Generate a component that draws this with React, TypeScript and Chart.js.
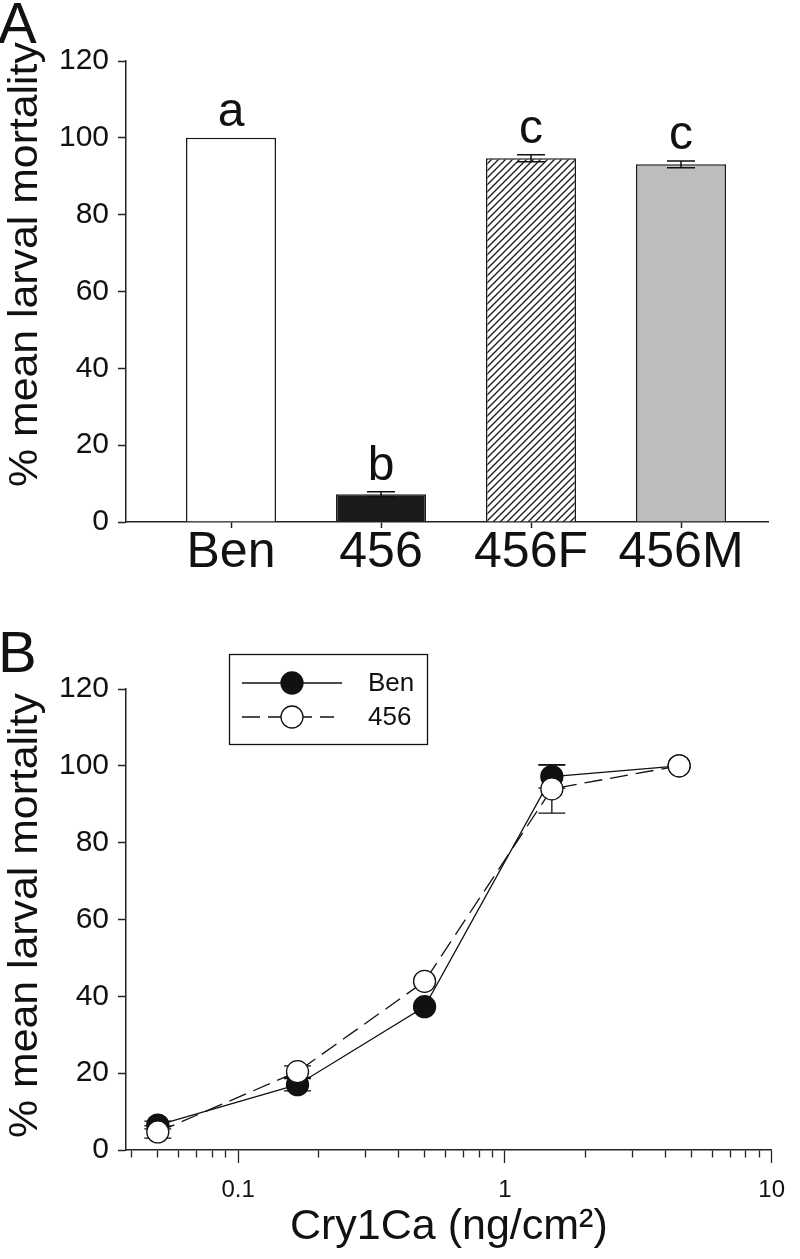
import React, { useEffect, useRef } from 'react';
import { Chart, registerables } from 'chart.js';

Chart.register(...registerables);

const FONT = '"Liberation Sans", Arial, Helvetica, sans-serif';
const INK = '#111111';

// ---------- Panel A data ----------
const groupLabels = ['Ben', '456', '456F', '456M'];
const meanMortality = [100, 7.2, 94.7, 93.1];
const mortalityErr = [0, 0.7, 0.9, 0.9];
const sigLetters = ['a', 'b', 'c', 'c'];

// ---------- Panel B data ----------
const doses = [0.05, 0.167, 0.5, 1.5, 4.5];
const benMortality = [6.5, 17.0, 37.3, 97.2, 100];
const benErr = [1.0, 1.6, 0, 3.0, 0];
const r456Mortality = [4.7, 20.4, 43.9, 94.0, 100];
const r456Err = [1.6, 1.5, 0, 6.3, 0];

// ---------- axis ticks ----------
const yTicks = [0, 20, 40, 60, 80, 100, 120];
const logMajorTicks = [0.1, 1, 10];
const Y_TITLE = '% mean larval mortality';
const X_TITLE_B = 'Cry1Ca (ng/cm\u00B2)';

Chart.defaults.font.family = FONT;
Chart.defaults.color = INK;

function makeHatch(ctx: CanvasRenderingContext2D) {
  const s = 7;
  const c = document.createElement('canvas');
  c.width = s;
  c.height = s;
  const g = c.getContext('2d')!;
  g.fillStyle = '#ffffff';
  g.fillRect(0, 0, s, s);
  g.strokeStyle = '#1a1a1a';
  g.lineWidth = 1.3;
  g.beginPath();
  g.moveTo(-1, s + 1);
  g.lineTo(s + 1, -1);
  g.moveTo(-1, 1);
  g.lineTo(1, -1);
  g.moveTo(s - 1, s + 1);
  g.lineTo(s + 1, s - 1);
  g.stroke();
  return ctx.createPattern(c, 'repeat');
}

const isMajorLog = (v: number) => Math.abs(Math.log10(v) - Math.round(Math.log10(v))) < 1e-6;

function yAxis() {
  return {
    min: 0,
    max: 120,
    afterBuildTicks: (s: any) => {
      s.ticks = yTicks.map((v) => ({ value: v }));
    },
    afterFit: (s: any) => {
      s.width = 126;
    },
    ticks: { font: { family: FONT, size: 30 }, color: INK, padding: 9 },
    grid: {
      display: true,
      drawOnChartArea: false,
      drawTicks: true,
      tickLength: 8,
      tickColor: '#222',
      tickWidth: 1.5,
    },
    border: { display: true, color: '#222', width: 1.5 },
  };
}

function yTitlePlugin(shift: number) {
  return {
    id: 'yTitle',
    afterDraw(chart: any) {
      const { ctx, chartArea } = chart;
      const cy = (chartArea.top + chartArea.bottom) / 2 + shift;
      ctx.save();
      ctx.translate(37, cy);
      ctx.rotate(-Math.PI / 2);
      ctx.scale(1.07, 1);
      ctx.font = `40px ${FONT}`;
      ctx.fillStyle = INK;
      ctx.textAlign = 'center';
      ctx.textBaseline = 'alphabetic';
      ctx.fillText(Y_TITLE, 0, 0);
      ctx.restore();
    },
  };
}

function panelLabelPlugin(text: string, baseline: number) {
  return {
    id: 'panelLabel',
    afterDraw(chart: any) {
      const ctx = chart.ctx;
      ctx.save();
      ctx.font = `58px ${FONT}`;
      ctx.fillStyle = INK;
      ctx.textAlign = 'left';
      ctx.textBaseline = 'alphabetic';
      ctx.fillText(text, -2, baseline);
      ctx.restore();
    },
  };
}

const barExtrasPlugin = {
  id: 'barExtras',
  afterDatasetsDraw(chart: any) {
    const { ctx } = chart;
    const xs = chart.scales.x;
    const ys = chart.scales.y;
    ctx.save();
    ctx.strokeStyle = INK;
    ctx.lineWidth = 1.5;
    meanMortality.forEach((v, i) => {
      const e = mortalityErr[i];
      const x = xs.getPixelForValue(i);
      if (e > 0) {
        const yt = ys.getPixelForValue(v + e);
        const yb = ys.getPixelForValue(v - e);
        ctx.beginPath();
        ctx.moveTo(x, yb);
        ctx.lineTo(x, yt);
        ctx.moveTo(x - 14, yt);
        ctx.lineTo(x + 14, yt);
        ctx.moveTo(x - 14, yb);
        ctx.lineTo(x + 14, yb);
        ctx.stroke();
      }
      ctx.font = `48px ${FONT}`;
      ctx.fillStyle = INK;
      ctx.textAlign = 'center';
      ctx.textBaseline = 'alphabetic';
      ctx.fillText(sigLetters[i], x, ys.getPixelForValue(v + e) - 12);
    });
    ctx.restore();
  },
};

const lineErrPlugin = {
  id: 'lineErr',
  beforeDatasetsDraw(chart: any) {
    const { ctx } = chart;
    const xs = chart.scales.x;
    const ys = chart.scales.y;
    ctx.save();
    ctx.strokeStyle = INK;
    ctx.lineWidth = 1.3;
    const series = [
      { vals: benMortality, errs: benErr },
      { vals: r456Mortality, errs: r456Err },
    ];
    series.forEach(({ vals, errs }) => {
      vals.forEach((v, i) => {
        const e = errs[i];
        if (e <= 0) return;
        const x = xs.getPixelForValue(doses[i]);
        const yt = ys.getPixelForValue(v + e);
        const yb = ys.getPixelForValue(v - e);
        ctx.beginPath();
        ctx.moveTo(x, yb);
        ctx.lineTo(x, yt);
        ctx.moveTo(x - 13.5, yt);
        ctx.lineTo(x + 13.5, yt);
        ctx.moveTo(x - 13.5, yb);
        ctx.lineTo(x + 13.5, yb);
        ctx.stroke();
      });
    });
    ctx.restore();
  },
};

const boxLegendPlugin = {
  id: 'boxLegend',
  afterDraw(chart: any) {
    const ctx = chart.ctx;
    ctx.save();
    ctx.strokeStyle = INK;
    ctx.lineWidth = 1.3;
    ctx.strokeRect(229.5, 54.5, 198, 90);
    chart.data.datasets.forEach((ds: any, i: number) => {
      const y = 83 + i * 34;
      ctx.strokeStyle = INK;
      ctx.lineWidth = 1.3;
      ctx.setLineDash(ds.borderDash || []);
      ctx.beginPath();
      ctx.moveTo(242, y);
      ctx.lineTo(ds.borderDash ? 334 : 342, y);
      ctx.stroke();
      ctx.setLineDash([]);
      ctx.beginPath();
      ctx.arc(292, y, 11, 0, Math.PI * 2);
      ctx.fillStyle = ds.pointBackgroundColor;
      ctx.fill();
      ctx.stroke();
      ctx.fillStyle = INK;
      ctx.font = `26px ${FONT}`;
      ctx.textAlign = 'left';
      ctx.textBaseline = 'middle';
      ctx.fillText(ds.label, 368, y + 1);
    });
    ctx.restore();
  },
};

export default function App() {
  const refA = useRef<HTMLCanvasElement>(null);
  const refB = useRef<HTMLCanvasElement>(null);

  useEffect(() => {
    const ctxA = refA.current!.getContext('2d')!;
    const hatch = makeHatch(ctxA);

    const chartA = new Chart(refA.current!, {
      type: 'bar',
      data: {
        datasets: [
          {
            data: meanMortality.map((v, i) => ({ x: i, y: v })),
            backgroundColor: ['#ffffff', '#1a1a1a', hatch as any, '#bdbdbd'],
            borderColor: '#1a1a1a',
            borderWidth: 1.5,
            barPercentage: 0.6,
            categoryPercentage: 1,
          } as any,
        ],
      },
      options: {
        responsive: false,
        animation: false,
        layout: { padding: { top: 61, right: 32, left: 0, bottom: 0 } },
        plugins: { legend: { display: false }, tooltip: { enabled: false } },
        scales: {
          x: {
            type: 'linear',
            min: -0.7,
            max: 3.58,
            offset: false,
            afterBuildTicks: (s: any) => {
              s.ticks = groupLabels.map((_, i) => ({ value: i }));
            },
            afterFit: (s: any) => {
              s.height = 78;
            },
            ticks: {
              font: { family: FONT, size: 50, lineHeight: 1 },
              color: INK,
              padding: 0,
              maxRotation: 0,
              autoSkip: false,
              callback: (v: any) => groupLabels[v] ?? '',
            },
            grid: {
              display: true,
              offset: false,
              drawOnChartArea: false,
              drawTicks: true,
              tickLength: 6,
              tickColor: '#222',
              tickWidth: 1.5,
            },
            border: { display: true, color: '#222', width: 1.5 },
          } as any,
          y: yAxis() as any,
        },
      },
      plugins: [barExtrasPlugin, yTitlePlugin(-27), panelLabelPlugin('A', 43)],
    });

    const chartB = new Chart(refB.current!, {
      type: 'line',
      data: {
        datasets: [
          {
            label: 'Ben',
            data: doses.map((x, i) => ({ x, y: benMortality[i] })),
            borderColor: INK,
            borderWidth: 1.3,
            pointRadius: 11,
            pointBackgroundColor: INK,
            pointBorderColor: INK,
            pointBorderWidth: 1.3,
            tension: 0,
            order: 2,
          },
          {
            label: '456',
            data: doses.map((x, i) => ({ x, y: r456Mortality[i] })),
            borderColor: INK,
            borderWidth: 1.3,
            borderDash: [18, 8],
            pointRadius: 11,
            pointBackgroundColor: '#ffffff',
            pointBorderColor: INK,
            pointBorderWidth: 1.3,
            tension: 0,
            order: 1,
          },
        ],
      },
      options: {
        responsive: false,
        animation: false,
        layout: { padding: { top: 89, right: 14, left: 0, bottom: 0 } },
        plugins: { legend: { display: false }, tooltip: { enabled: false } },
        scales: {
          x: {
            type: 'logarithmic',
            min: 0.038,
            max: 10,
            afterBuildTicks: (s: any) => {
              const out: { value: number }[] = [];
              logMajorTicks.forEach((m) => {
                const base = m / 10;
                for (let k = 1; k <= 9; k++) {
                  const v = base * k;
                  if (v >= s.min - 1e-9 && v <= s.max + 1e-9) out.push({ value: v });
                }
              });
              out.push({ value: logMajorTicks[logMajorTicks.length - 1] });
              s.ticks = out;
            },
            afterFit: (s: any) => {
              s.height = 109;
            },
            ticks: {
              font: { family: FONT, size: 24, lineHeight: 1 },
              color: INK,
              padding: 15,
              maxRotation: 0,
              autoSkip: false,
              callback: (v: any) => (isMajorLog(Number(v)) ? String(Number(Number(v).toPrecision(3))) : ''),
            },
            grid: {
              display: true,
              drawOnChartArea: false,
              drawTicks: true,
              tickLength: 13,
              tickColor: '#222',
              tickWidth: 1.3,
              tickBorderDash: (c: any) => (c.tick && isMajorLog(c.tick.value) ? [] : [7, 40]),
            },
            border: { display: true, color: '#222', width: 1.5 },
            title: {
              display: true,
              text: X_TITLE_B,
              color: INK,
              font: { family: FONT, size: 43, lineHeight: 1 },
              padding: { top: 0, bottom: 10 },
            },
          } as any,
          y: yAxis() as any,
        },
      },
      plugins: [lineErrPlugin, boxLegendPlugin, yTitlePlugin(-4), panelLabelPlugin('B', 72)],
    });

    return () => {
      chartA.destroy();
      chartB.destroy();
    };
  }, []);

  return (
    <div style={{ position: 'absolute', left: 0, top: 0, width: 800, height: 1259, background: '#ffffff' }}>
      <canvas ref={refA} width={800} height={600} style={{ display: 'block' }} />
      <canvas ref={refB} width={800} height={659} style={{ display: 'block' }} />
    </div>
  );
}
